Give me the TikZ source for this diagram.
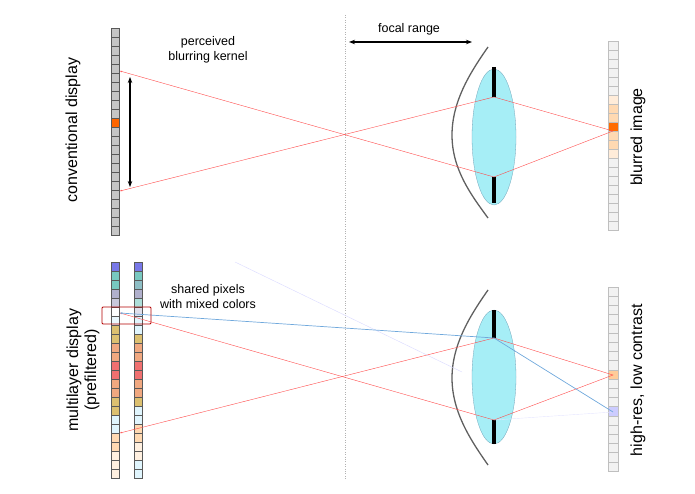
\documentclass[tikz,border=0pt]{standalone}
\usepackage{fontspec}
\setmainfont{Liberation Sans}
\usetikzlibrary{shapes.geometric,arrows.meta}
\definecolor{lensc}{HTML}{A6EEF6}
\definecolor{gold}{HTML}{DCC070}
\definecolor{salm}{HTML}{F0A880}
\definecolor{redp}{HTML}{F07070}
\definecolor{tealp}{HTML}{78C8C0}
\definecolor{bluep}{HTML}{7878E8}
\definecolor{lav}{HTML}{B0B0CC}
\definecolor{skyb}{HTML}{6FA8DC}
\begin{document}
\begin{tikzpicture}[x=1pt,y=-1pt,
  cell/.style={draw=gray!70!black,line width=0.3pt},
  ray/.style={draw=red!70,line width=0.4pt},
  bray/.style={draw=skyb,line width=0.7pt},
  lens/.style={fill=lensc,draw=cyan!40!gray,line width=0.3pt},
  bar/.style={line width=3.2pt,black},
  eye/.style={draw=gray!75!black,line width=1.3pt},
  lbl/.style={font=\fontsize{16}{18}\selectfont,align=center},
  sm/.style={font=\fontsize{12.5}{15}\selectfont,align=center}]
\useasboundingbox (0,0) rectangle (695,494);
\draw[gray!60,dotted] (345,15) -- (345,480);
% ---------- top ----------
\foreach \i in {0,...,22}{
  \pgfmathsetmacro\yy{28+9*\i}
  \ifnum\i=10 \def\c{orange!80!red}\else\def\c{gray!45}\fi
  \draw[cell,fill=\c] (111,\yy) rectangle (119,\yy+9);
}
\foreach \i/\c in {0/gray!10,1/gray!10,2/gray!10,3/gray!10,4/gray!10,5/gray!10,6/orange!15,7/orange!30,8/orange!30,9/orange!85!red,10/orange!30,11/orange!30,12/orange!15,13/gray!10,14/gray!10,15/gray!10,16/gray!10,17/gray!10,18/gray!10,19/gray!10,20/gray!10}{
  \pgfmathsetmacro\yy{41+9*\i}
  \draw[cell,draw=gray!50,fill=\c] (608,\yy) rectangle (618,\yy+9);
}
\draw[eye] (488,47) .. controls (472,70) and (452,100) .. (452,135) .. controls (452,170) and (472,196) .. (488,218);
\node[lens,ellipse,minimum width=44pt,minimum height=136pt,inner sep=0] (L1) at (494,137) {};
\draw[bar] (494,67) -- (494,97);
\draw[bar] (494,177) -- (494,203);
\coordinate (t1) at (494,97); \coordinate (b1) at (494,177);
\coordinate (p1) at (120,71); \coordinate (p2) at (120,191); \coordinate (img) at (613,131);
\draw[ray,-{Stealth[length=2pt]}] (b1) -- (p1);
\draw[ray,-{Stealth[length=2pt]}] (t1) -- (p2);
\draw[ray] (t1) -- (img) -- (b1);
\draw[line width=1.5pt,{Stealth[length=6pt]}-{Stealth[length=6pt]}] (130,77) -- (130,187);
\draw[line width=1.2pt,{Stealth[length=6pt]}-{Stealth[length=6pt]}] (349,42) -- (472,42);
\node[sm] (fr) at (409,29) {focal range};
\node[sm] (pk) at (208,50) {perceived\\blurring kernel};
\node[lbl,rotate=90] (cd) at (73,130) {conventional display};
\node[lbl,rotate=90] (bi) at (638,137) {blurred image};
% ---------- bottom ----------
\def\colA{{"bluep","tealp","tealp","lav","lav!70","white","cyan!8","gold","gold","salm","salm","redp","redp","salm","salm","gold","gold","cyan!12","cyan!12","orange!30","orange!30","orange!12","orange!12","orange!12"}}
\def\colB{{"bluep","tealp","tealp!60!lav","lav","tealp!60","lav!40","cyan!12","cyan!12","gold","salm","salm","redp","redp","salm","salm","gold","cyan!12","cyan!12","orange!30","orange!30","orange!12","orange!12","cyan!12","cyan!12"}}
\foreach \i in {0,...,23}{
  \pgfmathsetmacro\yy{262+9*\i}
  \pgfmathparse{\colA[\i]}\edef\ca{\pgfmathresult}
  \pgfmathparse{\colB[\i]}\edef\cb{\pgfmathresult}
  \draw[cell,fill=\ca] (111,\yy) rectangle (119,\yy+9);
  \draw[cell,fill=\cb] (134,\yy) rectangle (142,\yy+9);
}
\foreach \i in {0,...,19}{
  \pgfmathsetmacro\yy{287+9.2*\i}
  \ifnum\i=9 \def\c{orange!40}\else\ifnum\i=13 \def\c{blue!20}\else\def\c{gray!10}\fi\fi
  \draw[cell,draw=gray!50,fill=\c] (608,\yy) rectangle (618,\yy+9.2);
}
\draw[eye] (488,290) .. controls (472,313) and (452,343) .. (452,378) .. controls (452,413) and (472,442) .. (488,465);
\node[lens,ellipse,minimum width=44pt,minimum height=134pt,inner sep=0] (L2) at (494,377) {};
\draw[bar] (494,310) -- (494,338);
\draw[bar] (494,420) -- (494,444);
\coordinate (t2) at (494,338); \coordinate (b2) at (494,420);
\coordinate (q1) at (120,313); \coordinate (q2) at (120,433);
\coordinate (po) at (613,375); \coordinate (pb) at (613,412);
\coordinate (f1) at (235,262); \coordinate (f2) at (462,372);
\draw[blue!15,line width=0.4pt] (f1) -- (f2);
\draw[blue!10,line width=0.4pt] (b2) -- (pb);
\draw[ray,-{Stealth[length=2pt]}] (b2) -- (q1);
\draw[ray,-{Stealth[length=2pt]}] (t2) -- (q2);
\draw[ray] (t2) -- (po) -- (b2);
\draw[bray,-{Stealth[length=2.5pt]}] (t2) -- (q1);
\draw[bray] (t2) -- (pb);
\draw[red!70!black,line width=0.9pt,rounded corners=1pt] (102,307) rectangle (151,324);
\node[sm] (sp) at (208,297) {shared pixels\\with mixed colors};
\node[lbl,rotate=90] (md) at (83,370) {multilayer display\\(prefiltered)};
\node[lbl,rotate=90] (hr) at (638,380) {high-res, low contrast};
\end{tikzpicture}
\end{document}
